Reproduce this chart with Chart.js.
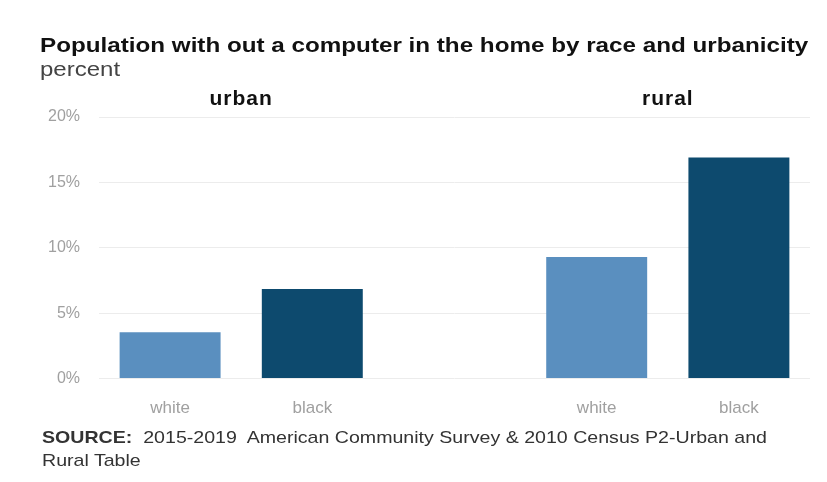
<!DOCTYPE html>
<html>
<head>
<meta charset="utf-8">
<script src="https://cdn.jsdelivr.net/npm/chart.js@4"></script>
<style>
  body { margin: 0; background: #fff; }
  #wrap { position: relative; width: 827px; height: 482px; overflow: hidden; }
  #wrap canvas { position: absolute; left: 0; top: 0; }
  .txt {
    position: absolute; left: 40px; white-space: nowrap;
    font-family: "Liberation Sans", Arial, sans-serif; transform-origin: left top;
  }
  #title { top: 33px; font-size: 21px; font-weight: bold; color: #111; transform: scaleX(1.153); }
  #subtitle { top: 58px; font-size: 20px; color: #444; transform: scaleX(1.2); }
  #source { top: 426px; left: 42px; font-size: 17px; line-height: 23px; color: #333; transform: scaleX(1.152); }
</style>
</head>
<body>
<div id="wrap">
  <canvas id="computerChart" width="827" height="482"></canvas>
  <div class="txt" id="title">Population with out a computer in the home by race and urbanicity</div>
  <div class="txt" id="subtitle">percent</div>
  <div class="txt" id="source"><b>SOURCE:</b>&nbsp; 2015-2019&nbsp; American Community Survey &amp; 2010 Census P2-Urban and<br>Rural Table</div>
</div>
<script>
// values (percent)
const groups = ['urban', 'rural'];
const races = ['white', 'black'];
const urbanValues = [3.55, 6.85];
const ruralValues = [9.3, 16.9];
const yTicks = [0, 5, 10, 15, 20];

const raceColors = ['#5a8fbf', '#0d4a6e'];

document.addEventListener('DOMContentLoaded', function() {
    // blank slot between urban and rural groups
    const labels = [...races, '', ...races];
    const values = [...urbanValues, null, ...ruralValues];
    const colors = [...raceColors, 'rgba(0,0,0,0)', ...raceColors];

    // Draw the group headings over each pair of bars
    const groupLabels = {
        id: 'groupLabels',
        afterDraw(chart) {
            const ctx = chart.ctx;
            const x = chart.scales.x;
            const top = chart.chartArea.top;
            ctx.save();
            ctx.font = 'bold 21px "Liberation Sans", Arial, sans-serif';
            ctx.letterSpacing = '1px';
            ctx.fillStyle = '#111';
            ctx.textAlign = 'center';
            ctx.textBaseline = 'middle';
            groups.forEach((g, i) => {
                const a = x.getPixelForValue(i * 3);
                const b = x.getPixelForValue(i * 3 + 1);
                ctx.fillText(g, (a + b) / 2, top - 18);
            });
            ctx.restore();
        }
    };

    new Chart(document.getElementById('computerChart'), {
        type: 'bar',
        data: {
            labels: labels,
            datasets: [{
                label: 'percent',
                data: values,
                backgroundColor: colors,
                borderWidth: 0,
                categoryPercentage: 1,
                barPercentage: 0.71
            }]
        },
        options: {
            responsive: false,
            animation: false,
            layout: { padding: { left: 40, right: 17, top: 117, bottom: 43 } },
            plugins: {
                legend: { display: false },
                tooltip: { enabled: false }
            },
            scales: {
                x: {
                    grid: { display: false, drawTicks: false },
                    border: { display: false },
                    ticks: {
                        color: '#a0a0a0',
                        padding: 20,
                        font: { family: '"Liberation Sans", Arial, sans-serif', size: 17 }
                    }
                },
                y: {
                    min: 0,
                    max: 20,
                    afterBuildTicks: axis => { axis.ticks = yTicks.map(v => ({ value: v })); },
                    afterFit: axis => { axis.width = 59; },
                    grid: { color: '#ececec', drawTicks: false },
                    border: { display: false },
                    ticks: {
                        color: '#a0a0a0',
                        padding: 19,
                        font: { family: '"Liberation Sans", Arial, sans-serif', size: 16 },
                        callback: v => v + '%'
                    }
                }
            }
        },
        plugins: [groupLabels]
    });
});
</script>
</body>
</html>
